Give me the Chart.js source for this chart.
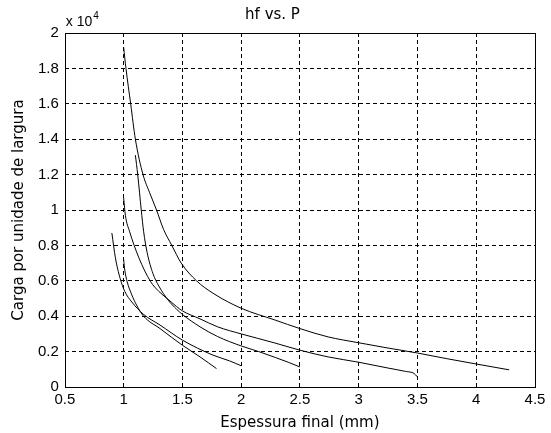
<!DOCTYPE html>
<html>
<head>
<meta charset="utf-8">
<script src="https://cdn.jsdelivr.net/npm/chart.js@4.4.1/dist/chart.umd.min.js"></script>
<style>
    body { margin: 0; background: #fff; }
    #wrap { width: 551px; height: 433px; position: relative; }
</style>
</head>
<body>
<div id="wrap"><canvas id="chart"></canvas></div>
<script>
// eixo x: espessura final (mm), eixo y: carga (x 10^4)
const xTickValues = [0.5, 1, 1.5, 2, 2.5, 3, 3.5, 4, 4.5];
const xTickLabels = ['0.5', '1', '1.5', '2', '2.5', '3', '3.5', '4', '4.5'];
const yTickValues = [0, 0.2, 0.4, 0.6, 0.8, 1, 1.2, 1.4, 1.6, 1.8, 2];
const yTickLabels = ['0', '0.2', '0.4', '0.6', '0.8', '1', '1.2', '1.4', '1.6', '1.8', '2'];

const espessura1 = [1.00, 1.02, 1.06, 1.10, 1.165, 1.22, 1.28, 1.34, 1.41, 1.49, 1.62, 1.76, 2.00, 2.29, 2.50, 2.74, 3.00, 3.25, 3.50, 3.75, 4.00, 4.28];
const carga1     = [1.92, 1.80, 1.60, 1.40, 1.20, 1.10, 1.00, 0.89, 0.80, 0.70, 0.60, 0.53, 0.445, 0.378, 0.33, 0.283, 0.25, 0.22, 0.192, 0.16, 0.13, 0.097];

const espessura2 = [1.00, 1.015, 1.05, 1.13, 1.23, 1.30, 1.37, 1.45, 1.50, 1.65, 1.80, 2.00, 2.28, 2.50, 2.74, 3.00, 3.25, 3.40, 3.47, 3.50];
const carga2     = [1.07, 0.97, 0.88, 0.73, 0.595, 0.54, 0.50, 0.455, 0.43, 0.385, 0.34, 0.30, 0.25, 0.208, 0.17, 0.14, 0.107, 0.088, 0.077, 0.057];

const espessura3 = [1.10, 1.12, 1.15, 1.17, 1.20, 1.25, 1.30, 1.38, 1.45, 1.50, 1.65, 1.80, 2.00, 2.15, 2.29, 2.40, 2.50];
const carga3     = [1.31, 1.20, 1.00, 0.88, 0.76, 0.64, 0.57, 0.49, 0.44, 0.41, 0.34, 0.285, 0.232, 0.2, 0.167, 0.14, 0.113];

const espessura4 = [0.90, 0.93, 0.97, 1.01, 1.07, 1.17, 1.31, 1.50, 1.76, 1.90, 2.00];
const carga4     = [0.87, 0.73, 0.614, 0.54, 0.48, 0.41, 0.35, 0.265, 0.18, 0.148, 0.12];

const espessura5 = [1.00, 1.01, 1.03, 1.07, 1.11, 1.17, 1.31, 1.50, 1.65, 1.79];
const carga5     = [0.72, 0.66, 0.595, 0.52, 0.463, 0.40, 0.33, 0.236, 0.17, 0.104];

const curves = [
    [espessura1, carga1],
    [espessura2, carga2],
    [espessura3, carga3],
    [espessura4, carga4],
    [espessura5, carga5]
];

const tickFont = '"Liberation Sans", Arial, Helvetica, sans-serif';
const labelFont = '"DejaVu Sans", sans-serif';

// caixa em volta da area + "x 10^4"
const boxPlugin = {
    id: 'boxPlugin',
    afterDraw(chart) {
        const ctx = chart.ctx;
        const a = chart.chartArea;
        ctx.save();
        ctx.strokeStyle = '#000';
        ctx.lineWidth = 1;
        ctx.strokeRect(Math.round(a.left) + 0.5, Math.round(a.top) + 0.5,
            Math.round(a.right - a.left), Math.round(a.bottom - a.top));
        ctx.fillStyle = '#000';
        ctx.textBaseline = 'alphabetic';
        ctx.font = '14px ' + tickFont;
        ctx.fillText('x 10', a.left + 1, a.top - 7);
        const w = ctx.measureText('x 10').width;
        ctx.font = '10px ' + tickFont;
        ctx.fillText('4', a.left + 1 + w + 1, a.top - 14);
        ctx.restore();
    }
};

const gridColor = (c) => {
    const n = c.scale && c.scale.ticks ? c.scale.ticks.length - 1 : -1;
    return (c.index === 0 || c.index === n) ? 'rgba(0,0,0,0)' : '#000';
};

new Chart(document.getElementById('chart'), {
    type: 'scatter',
    data: {
        datasets: curves.map(([xs, ys]) => ({
            data: xs.map((x, i) => ({ x: x, y: ys[i] })),
            showLine: true,
            borderColor: '#000',
            borderWidth: 1,
            pointRadius: 0,
            fill: false,
            cubicInterpolationMode: 'monotone'
        }))
    },
    plugins: [boxPlugin],
    options: {
        responsive: true,
        maintainAspectRatio: false,
        animation: false,
        layout: { padding: { left: 10, right: 16, top: 6, bottom: 1 } },
        plugins: {
            legend: { display: false },
            tooltip: { enabled: false },
            title: {
                display: true,
                text: 'hf vs. P',
                color: '#000',
                font: { family: labelFont, size: 15, weight: 'normal' },
                padding: { top: 0, bottom: 9 }
            }
        },
        scales: {
            x: {
                type: 'linear',
                min: 0.5,
                max: 4.5,
                afterBuildTicks: (axis) => { axis.ticks = xTickValues.map(v => ({ value: v })); },
                ticks: {
                    color: '#000',
                    padding: 4,
                    maxRotation: 0,
                    font: { family: tickFont, size: 15 },
                    callback: (v, i) => xTickLabels[i]
                },
                grid: { color: gridColor, lineWidth: 1, drawTicks: false },
                border: { display: false, dash: [4, 3] },
                title: {
                    display: true,
                    text: 'Espessura final (mm)',
                    color: '#000',
                    font: { family: labelFont, size: 15 },
                    padding: { top: 1, bottom: 0 }
                }
            },
            y: {
                type: 'linear',
                min: 0,
                max: 2,
                afterBuildTicks: (axis) => { axis.ticks = yTickValues.map(v => ({ value: v })); },
                ticks: {
                    color: '#000',
                    padding: 6,
                    font: { family: tickFont, size: 15 },
                    callback: (v, i) => yTickLabels[i]
                },
                grid: { color: gridColor, lineWidth: 1, drawTicks: false },
                border: { display: false, dash: [4, 3] },
                title: {
                    display: true,
                    text: 'Carga por unidade de largura',
                    color: '#000',
                    font: { family: labelFont, size: 15 },
                    padding: { top: 0, bottom: 4 }
                }
            }
        }
    }
});
</script>
</body>
</html>
